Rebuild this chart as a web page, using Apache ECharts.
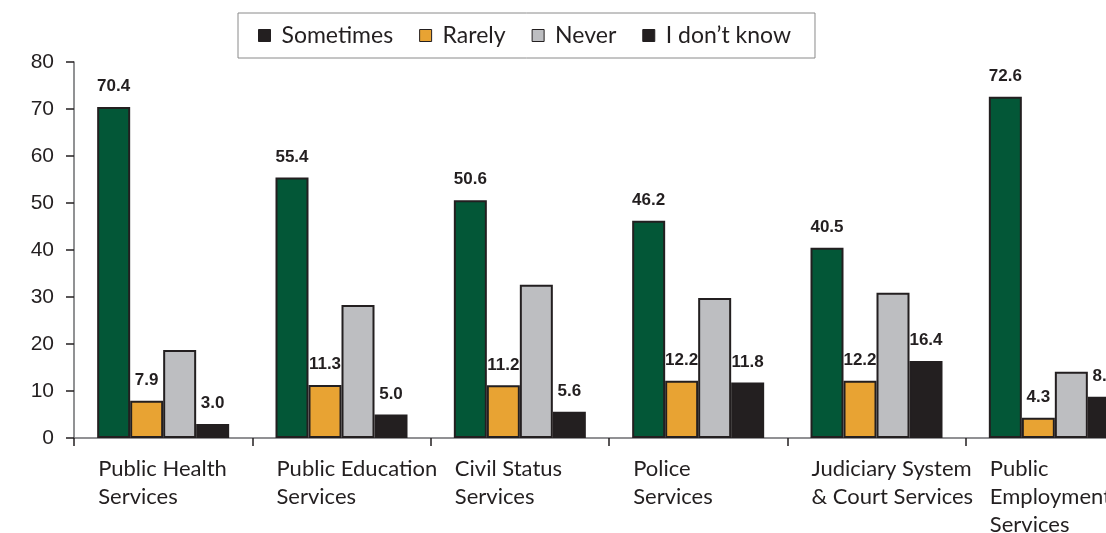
<!DOCTYPE html>
<html>
<head>
<meta charset="utf-8">
<script src="https://cdn.jsdelivr.net/npm/echarts@6/dist/echarts.min.js"></script>
<style>
  html, body { margin: 0; padding: 0; background: #ffffff; overflow: hidden; }
  #chart { width: 1106px; height: 533px; }
</style>
</head>
<body>
<div id="chart"></div>
<script>
// Service categories on the x axis
const categories = [
  'Public Health\nServices',
  'Public Education\nServices',
  'Civil Status\nServices',
  'Police\nServices',
  'Judiciary System\n& Court Services',
  'Public\nEmployment\nServices'
];

// Percentages per answer
const sometimes = [70.4, 55.4, 50.6, 46.2, 40.5, 72.6];
const rarely    = [7.9, 11.3, 11.2, 12.2, 12.2, 4.3];
const never     = [18.7, 28.3, 32.6, 29.8, 30.9, 14.1];
const dontKnow  = [3.0, 5.0, 5.6, 11.8, 16.4, 8.8];

const seriesNames = ['Sometimes', 'Rarely', 'Never', 'I don\u2019t know'];
const yTicks = { min: 0, max: 80, interval: 10 };

const ink = '#231f20';
const colors = ['#035737', '#e8a333', '#bdbec1', '#231f20'];
const uiFont = 'Lato';
const numFont = '"Liberation Sans", Arial, sans-serif';

const valueLabel = {
  show: true,
  position: 'top',
  distance: 12,
  color: ink,
  fontFamily: numFont,
  fontWeight: 'bold',
  fontSize: 17,
  formatter: p => p.value.toFixed(1)
};

function bar(name, data, color, showLabel) {
  return {
    name: name,
    type: 'bar',
    data: data,
    barWidth: 33,
    barGap: '0%',
    itemStyle: { color: color, borderColor: ink, borderWidth: 2 },
    label: showLabel ? valueLabel : { show: false },
    emphasis: { disabled: true },
    z: 2
  };
}

const chart = echarts.init(document.getElementById('chart'), null, { renderer: 'canvas' });

chart.setOption({
  animation: false,
  backgroundColor: '#ffffff',
  legend: {
    top: 13,
    left: 238,
    padding: [11, 24, 11, 20],
    borderColor: '#8a8a8a',
    borderWidth: 1,
    itemWidth: 12,
    itemHeight: 12,
    itemGap: 26,
    icon: 'rect',
    itemStyle: { borderColor: ink, borderWidth: 1 },
    textStyle: { fontFamily: uiFont, fontSize: 23, color: ink, padding: [0, 0, 0, 6] },
    data: [
      { name: seriesNames[0], itemStyle: { color: ink } },
      { name: seriesNames[1] },
      { name: seriesNames[2] },
      { name: seriesNames[3] }
    ]
  },
  // plot area runs past the right edge, so the last group is cut off
  grid: {
    left: 74,
    top: 62,
    width: 1070,
    height: 376,
    outerBoundsMode: 'none',
    containLabel: false
  },
  xAxis: {
    type: 'category',
    data: categories,
    axisLine: { lineStyle: { color: '#6d6e71', width: 1.5 } },
    axisTick: { show: true, length: 8, lineStyle: { color: ink, width: 1.5 } },
    axisLabel: {
      interval: 0,
      align: 'left',
      verticalAlign: 'top',
      margin: 17,
      padding: [0, 0, 0, -65],
      color: ink,
      fontFamily: uiFont,
      fontSize: 22,
      lineHeight: 28,
      hideOverlap: false
    }
  },
  yAxis: {
    type: 'value',
    min: yTicks.min,
    max: yTicks.max,
    interval: yTicks.interval,
    splitLine: { show: false },
    axisLine: { show: true, lineStyle: { color: '#6d6e71', width: 1.5 } },
    axisTick: { show: true, length: 8, lineStyle: { color: ink, width: 1.5 } },
    axisLabel: {
      margin: 20,
      color: ink,
      fontFamily: numFont,
      fontSize: 21
    }
  },
  series: [
    bar(seriesNames[0], sometimes, colors[0], true),
    bar(seriesNames[1], rarely, colors[1], true),
    bar(seriesNames[2], never, colors[2], false),
    bar(seriesNames[3], dontKnow, colors[3], true)
  ]
});
</script>
</body>
</html>
